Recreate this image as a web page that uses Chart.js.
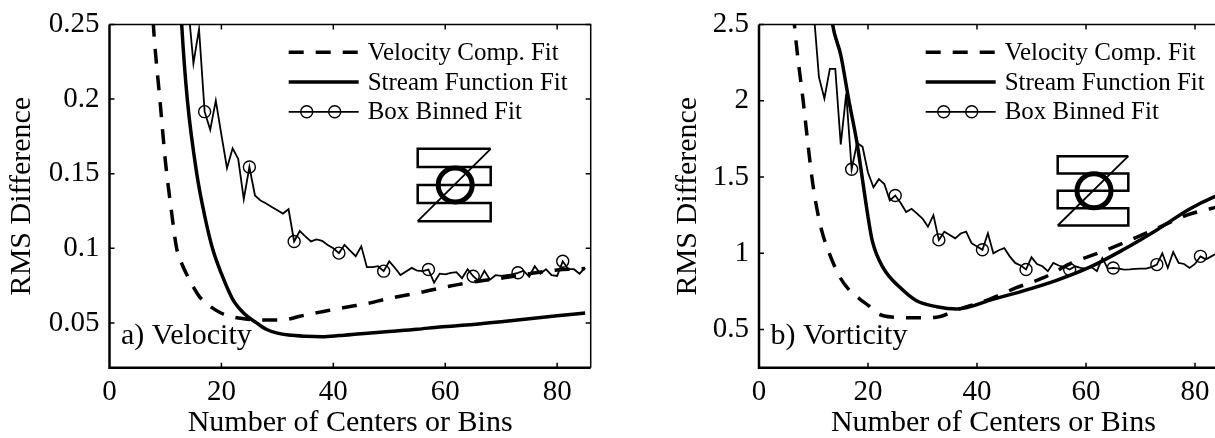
<!DOCTYPE html>
<html>
<head>
<meta charset="utf-8">
<script src="https://cdn.jsdelivr.net/npm/chart.js@4.4.1/dist/chart.umd.min.js"></script>
<style>
    html, body { margin: 0; padding: 0; background: #fff; overflow: hidden; }
    #wrap { position: relative; width: 1215px; height: 438px; overflow: hidden; }
    .panel { position: absolute; top: 0; height: 438px; }
    #panelA { left: 0; width: 610px; }
    #panelB { left: 615px; width: 640px; }
</style>
</head>
<body>
<div id="wrap">
    <div class="panel" id="panelA"><canvas id="chartA"></canvas></div>
    <div class="panel" id="panelB"><canvas id="chartB"></canvas></div>
</div>
<script>
// DATA
const xTicks = [0, 20, 40, 60, 80];
const xTickLabels = ['0', '20', '40', '60', '80'];
const seriesNames = ['Velocity Comp. Fit', 'Stream Function Fit', 'Box Binned Fit'];
const markerX = [17, 25, 33, 41, 49, 57, 65, 73, 81];

// a) Velocity
const velYTicks = [0.05, 0.1, 0.15, 0.2, 0.25];
const velYTickLabels = ['0.05', '0.1', '0.15', '0.2', '0.25'];
const velCompX = [7.5, 8, 9, 10, 11, 12, 13, 14, 15, 16, 17, 18, 20, 22, 24, 26, 28, 30, 32, 34, 36, 38, 40, 43, 46, 50, 55, 59, 62, 66, 70, 75, 80, 85];
const velCompY = [0.27, 0.241, 0.200, 0.158, 0.127, 0.100, 0.089, 0.081, 0.074, 0.068, 0.064, 0.061, 0.0565, 0.054, 0.0528, 0.0521, 0.052, 0.052, 0.0525, 0.0545, 0.056, 0.0575, 0.059, 0.061, 0.063, 0.0665, 0.070, 0.0733, 0.0755, 0.078, 0.080, 0.083, 0.0855, 0.0865];
const velStrX = [12.5, 12.9, 13.9, 15.6, 17, 18.4, 20, 22, 24, 26.3, 28, 30, 32, 35, 38, 41, 45, 50, 55, 59, 65, 70, 75, 80, 85];
const velStrY = [0.28, 0.25, 0.2, 0.15, 0.122, 0.1, 0.083, 0.066, 0.0565, 0.05, 0.0458, 0.0432, 0.0419, 0.0411, 0.0408, 0.0415, 0.0428, 0.0443, 0.0458, 0.0473, 0.049, 0.0508, 0.0528, 0.0548, 0.0567];
const velBoxX = [14, 15, 16, 17, 18, 19, 20, 21, 22, 23, 24, 25, 26, 27, 28, 29, 30, 31, 32, 33, 34, 35, 36, 37, 38, 39, 40, 41, 42, 43, 44, 45, 46, 47, 48, 49,
    50, 51, 52, 53, 54, 55, 56, 57, 58, 59, 60, 61, 62, 63, 64, 65, 66, 67, 68, 69, 70, 71, 72, 73, 74, 75, 76, 77, 78, 79, 80, 81, 82, 83, 84, 85];
const velBoxY = [0.265, 0.224, 0.247, 0.1916, 0.1795, 0.199, 0.176, 0.1537, 0.167, 0.160, 0.133, 0.1545, 0.1354, 0.132, 0.130, 0.1277, 0.1255, 0.1233, 0.1262, 0.1046,
    0.1116, 0.108, 0.1046, 0.106, 0.105, 0.1023, 0.1000, 0.0968, 0.1023, 0.0985, 0.0947, 0.1013, 0.0874, 0.0874, 0.0880, 0.0847,
    0.0913, 0.0870, 0.0821, 0.0845, 0.0869, 0.0850, 0.0847, 0.0858, 0.0770, 0.0830, 0.0825, 0.0836, 0.0840, 0.0800, 0.0860, 0.0813,
    0.0780, 0.0850, 0.0790, 0.0820, 0.0815, 0.0820, 0.0825, 0.0836, 0.0850, 0.0810, 0.0880, 0.0830, 0.0860, 0.0820, 0.0815, 0.0913,
    0.0860, 0.0860, 0.0830, 0.0869];

// b) Vorticity
const vorYTicks = [0.5, 1, 1.5, 2, 2.5];
const vorYTickLabels = ['0.5', '1', '1.5', '2', '2.5'];
const vorCompX = [6, 6.5, 8.1, 9.7, 10.4, 11.5, 12.9, 14.9, 16.7, 18.5, 20.1, 21.9, 24.6, 28, 32.6, 36.3, 42.4, 47, 52.2, 57.4, 62.6, 67.5, 73, 78.5, 82.8, 85];
const vorCompY = [2.75, 2.5, 2.0, 1.5, 1.336, 1.15, 1.0, 0.84, 0.754, 0.70, 0.657, 0.603, 0.581, 0.577, 0.581, 0.629, 0.70, 0.771, 0.84, 0.937, 1.006, 1.077, 1.163, 1.25, 1.292, 1.31];
const vorStrX = [13, 13.5, 15, 16.5, 18, 19, 20, 20.8, 22.8, 25.9, 28.9, 32.6, 36.3, 43, 48.5, 54.6, 60.7, 66.8, 73, 79.1, 83.4, 85];
const vorStrY = [2.65, 2.5, 2.3, 2.0, 1.72, 1.48, 1.24, 1.08, 0.904, 0.775, 0.689, 0.65, 0.635, 0.70, 0.754, 0.823, 0.909, 1.023, 1.153, 1.292, 1.368, 1.39];
const vorBoxX = [10, 11, 12, 13, 14, 15, 16, 17, 18, 19, 20, 21, 22, 23, 24, 25, 26, 27, 28, 29, 30, 31, 32, 33, 34, 35, 36, 37, 38, 39, 40, 41, 42, 43, 44, 45, 46, 47, 48, 49,
    50, 51, 52, 53, 54, 55, 56, 57, 58, 59, 60, 61, 62, 63, 64, 65, 66, 67, 68, 69, 70, 71, 72, 73, 74, 75, 76, 77, 78, 79, 80, 81, 82, 83, 84, 85];
const vorBoxY = [2.6, 2.155, 2.015, 2.209, 2.209, 1.713, 2.047, 1.551, 1.724, 1.698, 1.53, 1.433, 1.486, 1.454, 1.347, 1.379, 1.33, 1.271, 1.292, 1.26,
    1.228, 1.174, 1.25, 1.088, 1.142, 1.12, 1.098, 1.13, 1.142, 1.066, 1.045, 1.023, 1.131, 1.0, 1.02, 1.034, 0.98, 0.937, 0.92, 0.894,
    0.974, 0.93, 0.915, 0.883, 0.937, 0.92, 0.91, 0.894, 0.915, 0.905, 0.90, 0.91, 0.883, 0.969, 0.90, 0.904, 0.90, 0.893, 0.894, 0.898,
    0.90, 0.90, 0.91, 0.926, 1.0, 0.904, 1.008, 0.937, 0.93, 0.904, 0.93, 0.98, 0.96, 0.98, 1.0, 1.01];

const FONT = '"Liberation Serif", "Times New Roman", serif';

function pts(xs, ys) {
    return xs.map((x, i) => ({ x: x, y: ys[i] }));
}

// FRAME, LEGEND, SKETCH AND PANEL LABEL
function makeDecor(p) {
    return {
        id: 'decor',
        afterDraw(chart) {
            const { ctx, chartArea: a, scales: { x, y } } = chart;
            ctx.save();
            ctx.strokeStyle = '#000';
            ctx.fillStyle = '#000';

            // box
            ctx.lineWidth = 1.5;
            ctx.beginPath();
            ctx.moveTo(a.left, a.top); ctx.lineTo(a.right, a.top); ctx.lineTo(a.right, a.bottom);
            ctx.stroke();
            ctx.lineWidth = 2.5;
            ctx.beginPath();
            ctx.moveTo(a.left, a.top); ctx.lineTo(a.left, a.bottom); ctx.lineTo(a.right, a.bottom);
            ctx.stroke();

            // inward ticks
            ctx.lineWidth = 1.5;
            const L = 5;
            ctx.beginPath();
            x.ticks.forEach(t => {
                const px = x.getPixelForValue(t.value);
                if (px <= a.left + 1) return;
                ctx.moveTo(px, a.bottom); ctx.lineTo(px, a.bottom - L);
                ctx.moveTo(px, a.top); ctx.lineTo(px, a.top + L);
            });
            y.ticks.forEach(t => {
                const py = y.getPixelForValue(t.value);
                ctx.moveTo(a.left, py); ctx.lineTo(a.left + L, py);
                ctx.moveTo(a.right, py); ctx.lineTo(a.right - L, py);
            });
            ctx.stroke();

            // legend
            const x0 = a.right - 302, x1 = a.right - 232, tx = a.right - 223;
            ctx.font = '25px ' + FONT;
            ctx.textBaseline = 'middle';
            ctx.textAlign = 'left';
            chart.data.datasets.forEach((d, i) => {
                const yy = a.top + 27.7 + i * 29.8;
                ctx.lineWidth = d.borderWidth;
                ctx.setLineDash(d.borderDash || []);
                ctx.beginPath(); ctx.moveTo(x0, yy); ctx.lineTo(x1, yy); ctx.stroke();
                ctx.setLineDash([]);
                if (i === 2) {
                    ctx.lineWidth = d.pointBorderWidth;
                    [x0 + 18, x0 + 46].forEach(cx => {
                        ctx.beginPath(); ctx.arc(cx, yy, 6, 0, Math.PI * 2); ctx.stroke();
                    });
                }
                ctx.fillText(d.label, tx, yy + 1);
            });

            // sketch
            const L0 = a.right - p.icon.fromRight, R0 = L0 + p.icon.w;
            const T0 = a.top + p.icon.fromTop, step = p.icon.h / 4;
            ctx.lineWidth = 2.5;
            ctx.beginPath();
            ctx.moveTo(R0, T0);
            for (let k = 0; k < 5; k++) {
                const yy = T0 + k * step;
                const fromX = k % 2 === 0 ? R0 : L0;
                const toX = k % 2 === 0 ? L0 : R0;
                ctx.lineTo(fromX, yy);
                ctx.lineTo(toX, yy);
            }
            ctx.stroke();
            ctx.lineWidth = 1.8;
            ctx.beginPath(); ctx.moveTo(L0, T0 + p.icon.h); ctx.lineTo(R0, T0); ctx.stroke();
            ctx.lineWidth = 5;
            ctx.beginPath();
            ctx.arc((L0 + R0) / 2 + 1, T0 + p.icon.h / 2, 17, 0, Math.PI * 2);
            ctx.stroke();

            // panel label
            ctx.font = '30px ' + FONT;
            ctx.textBaseline = 'alphabetic';
            ctx.fillText(p.label, a.left + 11.5, a.bottom - 23.7);
            ctx.restore();
        }
    };
}

function buildChart(canvasId, p) {
    return new Chart(document.getElementById(canvasId), {
        type: 'line',
        data: {
            datasets: [
                {
                    label: seriesNames[0], data: pts(p.compX, p.compY),
                    borderColor: '#000', borderWidth: 3.5, borderDash: [15, 12],
                    pointRadius: 0, cubicInterpolationMode: 'monotone', clip: 0
                },
                {
                    label: seriesNames[1], data: pts(p.strX, p.strY),
                    borderColor: '#000', borderWidth: 3.5,
                    pointRadius: 0, cubicInterpolationMode: 'monotone', clip: 0
                },
                {
                    label: seriesNames[2], data: pts(p.boxX, p.boxY),
                    borderColor: '#000', borderWidth: 1.8, tension: 0,
                    pointRadius: c => (c.raw && markerX.includes(c.raw.x)) ? 6 : 0,
                    pointBorderColor: '#000', pointBackgroundColor: 'rgba(0,0,0,0)',
                    pointBorderWidth: 1.4, clip: 0
                }
            ]
        },
        options: {
            responsive: true,
            maintainAspectRatio: false,
            animation: false,
            events: [],
            layout: { padding: { top: 20, right: p.padRight, left: 0, bottom: 0 } },
            plugins: { legend: { display: false }, tooltip: { enabled: false } },
            scales: {
                x: {
                    type: 'linear', min: 0, max: 86,
                    afterBuildTicks: s => { s.ticks = xTicks.map(v => ({ value: v })); },
                    afterFit: s => { s.height = 70.3; },
                    grid: { display: false, drawTicks: false },
                    border: { display: false },
                    ticks: {
                        callback: (v, i) => xTickLabels[i],
                        font: { family: FONT, size: 29, lineHeight: 1 },
                        color: '#000', padding: 10, maxRotation: 0, autoSkip: false
                    },
                    title: {
                        display: true, text: 'Number of Centers or Bins', color: '#000',
                        font: { family: FONT, size: 30, lineHeight: 1 },
                        padding: { top: 0, bottom: 0 }
                    }
                },
                y: {
                    type: 'linear', min: p.yMin, max: p.yMax,
                    afterBuildTicks: s => { s.ticks = p.yTicks.map(v => ({ value: v })); },
                    afterFit: s => { s.width = p.yAxisWidth; },
                    grid: { display: false, drawTicks: false },
                    border: { display: false },
                    ticks: {
                        callback: (v, i) => p.yTickLabels[i],
                        font: { family: FONT, size: 29, lineHeight: 1 },
                        color: '#000', padding: 10, autoSkip: false
                    },
                    title: {
                        display: true, text: 'RMS Difference', color: '#000',
                        font: { family: FONT, size: 30, lineHeight: 1 },
                        padding: { top: p.yTitlePad, bottom: 0 }
                    }
                }
            }
        },
        plugins: [makeDecor(p)]
    });
}

buildChart('chartA', {
    compX: velCompX, compY: velCompY, strX: velStrX, strY: velStrY, boxX: velBoxX, boxY: velBoxY,
    yMin: 0.02, yMax: 0.25, yTicks: velYTicks, yTickLabels: velYTickLabels,
    yAxisWidth: 109.5, padRight: 19.3, yTitlePad: 7.5,
    label: 'a) Velocity',
    icon: { fromRight: 173, fromTop: 124.3, w: 73, h: 72.4 }
});

buildChart('chartB', {
    compX: vorCompX, compY: vorCompY, strX: vorStrX, strY: vorStrY, boxX: vorBoxX, boxY: vorBoxY,
    yMin: 0.25, yMax: 2.5, yTicks: vorYTicks, yTickLabels: vorYTickLabels,
    yAxisWidth: 144, padRight: 27.3, yTitlePad: 57.8,
    label: 'b) Vorticity',
    icon: { fromRight: 170, fromTop: 131.7, w: 70.6, h: 69.3 }
});
</script>
</body>
</html>
